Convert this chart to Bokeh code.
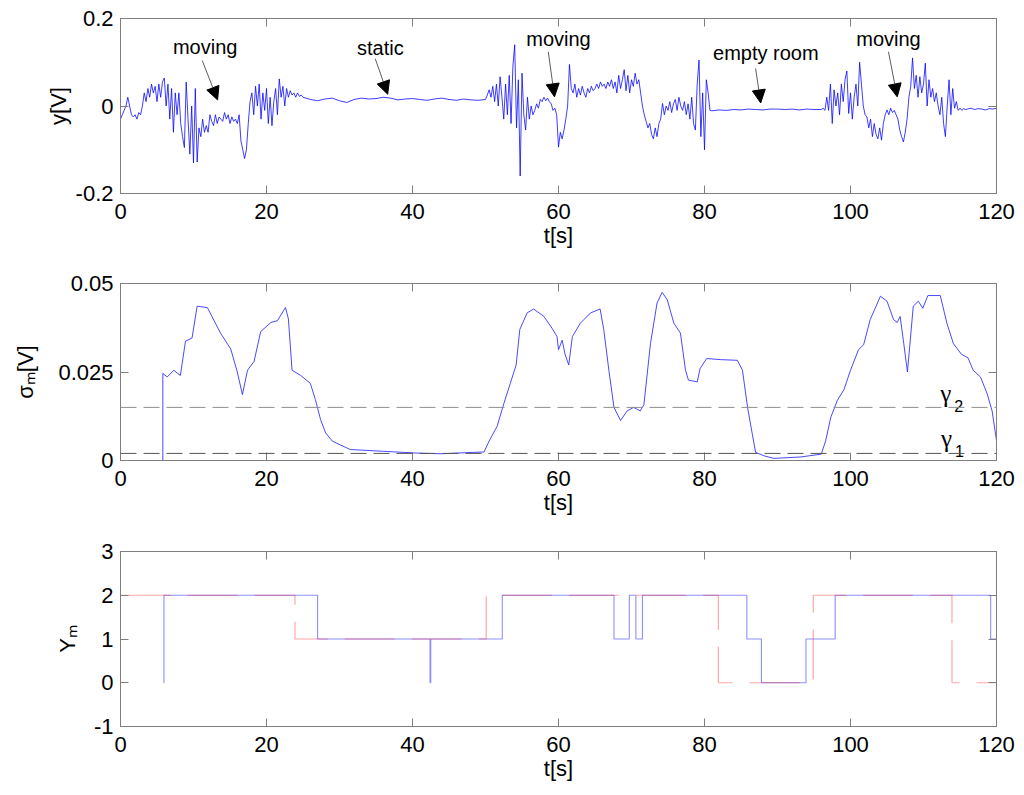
import numpy as np
from bokeh.plotting import figure
from bokeh.models import LinearAxis, FixedTicker, Arrow, NormalHead, ColumnDataSource, Span, Range1d
from bokeh.layouts import column
from bokeh.embed import file_html
from bokeh.resources import INLINE
from bokeh.core.properties import value

# ---------------- data ----------------
x_ticks = [0, 20, 40, 60, 80, 100, 120]
x_tick_labels = ["0", "20", "40", "60", "80", "100", "120"]

y1_ticks = [-0.2, 0, 0.2]
y1_tick_labels = ["-0.2", "0", "0.2"]
y2_ticks = [0, 0.025, 0.05]
y2_tick_labels = ["0", "0.025", "0.05"]
y3_ticks = [-1, 0, 1, 2, 3]
y3_tick_labels = ["-1", "0", "1", "2", "3"]

# raw signal y[V], read segment by segment (start time, sample step, values)
segA_start, segA_step = 0.0, 0.25
segA = [-0.03, -0.02, -0.01, 0.0,
        0.02, 0.0, -0.02, -0.025,
        -0.02, -0.03, -0.015, -0.02,
        0.0, 0.03, 0.01, 0.04,
        0.02, 0.05, 0.03, 0.045,
        0.01, 0.05, 0.02, 0.055,
        0.064, 0.0, 0.05, -0.03,
        0.04, -0.06, 0.03, -0.02,
        0.03, -0.04, -0.07, -0.095,
        0.055, -0.03, -0.11, 0.0,
        -0.13, 0.04, -0.128, -0.05,
        -0.07, -0.03, -0.06, -0.045,
        -0.06, -0.02, -0.035, -0.045,
        -0.02, -0.04, -0.025, -0.03,
        -0.035, -0.015, -0.03, -0.02,
        -0.04, -0.025, -0.035, -0.03,
        -0.04, -0.02, -0.08, -0.1,
        -0.12, -0.1, -0.04, 0.01,
        0.03, -0.02, 0.045, 0.0,
        0.05, -0.03, 0.03, -0.01,
        0.04, -0.04, 0.02, -0.045,
        0.01, 0.04, -0.02, 0.062,
        0.02, 0.045, 0.0, 0.04,
        0.02, 0.035, 0.025, 0.03,
        0.02, 0.03, 0.022, 0.025]
segB_start, segB_step = 25.0, 1.0
segB = [0.02, 0.015, 0.012, 0.016, 0.018, 0.012, 0.008, 0.015, 0.018, 0.016,
        0.017, 0.02, 0.018, 0.014, 0.016, 0.017, 0.015, 0.013, 0.016, 0.018,
        0.015, 0.013, 0.016, 0.014, 0.013]
segC_start, segC_step = 50.0, 0.25
segC = [0.015, 0.025, 0.037, 0.02,
        0.045, 0.01, 0.05, 0.0,
        0.067, 0.02, -0.03, 0.05,
        -0.02, 0.07, -0.04, 0.09,
        0.14, -0.05, 0.06, -0.16,
        0.075, -0.02, -0.055, 0.02,
        -0.03, 0.0, -0.02, -0.01,
        0.005, -0.005, 0.015, 0.01,
        0.02, 0.012, 0.018, 0.01,
        0.005, -0.01, -0.005, -0.02,
        -0.094, -0.06, -0.075, -0.055,
        -0.03, 0.0, 0.095, 0.04,
        0.03, 0.05, 0.02, 0.04,
        0.025, 0.045, 0.03, 0.02,
        0.04, 0.03, 0.045, 0.035,
        0.04, 0.05, 0.04, 0.055,
        0.045, 0.05, 0.04, 0.055,
        0.045, 0.06, 0.04, 0.055,
        0.03, 0.07, 0.04, 0.06,
        0.083, 0.035, 0.07, 0.03,
        0.06, 0.045, 0.075, 0.05,
        0.06, 0.03, 0.0, -0.02,
        -0.035, -0.05, -0.04, -0.065,
        -0.075, -0.05, -0.07, -0.04,
        -0.03, 0.006, -0.02, 0.0,
        -0.01, 0.01, -0.015, 0.005,
        0.015, -0.01, 0.02, 0.0,
        -0.01, 0.01, -0.02, 0.005,
        -0.03, 0.02, -0.04, -0.055,
        0.05, 0.105, -0.07, 0.03,
        -0.1, 0.06, 0.03, -0.01]
segD_start, segD_step = 81.0, 1.0
segD = [-0.011, -0.009, -0.01, -0.008, -0.009, -0.007, -0.008, -0.009, -0.007,
        -0.007, -0.008, -0.007, -0.009, -0.007, -0.008]
segE_start, segE_step = 96.0, 0.25
segE = [-0.008, -0.005, -0.01, 0.02,
        -0.01, 0.05, -0.04, 0.037,
        0.0, 0.03, -0.02, 0.05,
        0.01, 0.06, 0.08, -0.017,
        0.03, -0.03, 0.02, 0.05,
        0.0, 0.10, 0.05, 0.0,
        -0.02, -0.025, -0.05, -0.03,
        -0.07, -0.04, -0.065, -0.075,
        -0.05, -0.078, -0.04, -0.02,
        -0.009, -0.02, -0.005, -0.015,
        -0.01, -0.02, -0.03, -0.055,
        -0.07, -0.082, -0.06, -0.03,
        0.02, 0.045, 0.11, 0.04,
        0.07, 0.02, 0.067, 0.03,
        0.05, 0.098, 0.0, 0.06,
        0.02, 0.04, 0.01, 0.03,
        0.0, -0.02, 0.02, -0.04,
        -0.07, 0.0, 0.06, -0.02,
        0.04, -0.005, 0.01, -0.01,
        -0.005, -0.01, -0.006, -0.008]
segF_start, segF_step = 116.0, 0.5
segF = [-0.007, -0.005, -0.008, -0.006, -0.007, -0.009, -0.006, -0.007, -0.005]

# sigma_m [V]
sig_t = [0, 5.8, 5.8, 6.4, 7.3, 8.2, 8.9, 9.8, 10.5, 11.9, 13.7, 15.1, 16.0, 16.7, 17.4, 18.3,
         19.2, 20.6, 21.5, 22.6, 23.0, 23.5, 24.7, 26.0, 26.7, 27.4, 28.1, 29.0, 30.1, 31.5,
         36.0, 40.6, 43.9, 48.4, 49.8, 50.5, 51.6, 52.5, 53.4, 54.2, 54.7, 55.7, 56.6, 58.0,
         59.1, 59.8, 60.0, 60.5, 60.9, 61.4, 61.9, 63.0, 64.4, 65.7, 66.2, 66.9, 67.6, 68.5,
         69.4, 70.3, 71.2, 71.7, 72.6, 73.5, 74.2, 74.9, 75.8, 76.7, 77.4, 77.8, 79.0, 79.4,
         80.3, 82.2, 84.5, 85.2, 85.9, 86.3, 87.0, 88.2, 89.5, 93.2, 96.0, 96.6, 97.3, 98.2,
         99.1, 100.0, 101.1, 101.8, 102.7, 104.1, 105.0, 105.9, 106.4, 106.8, 107.3, 107.8,
         108.6, 109.3, 109.9, 110.6, 112.3, 113.2, 114.1, 115.2, 116.1, 116.8, 117.8, 118.7,
         119.4, 120.0]
sig_v = [0, 0, 0.0246, 0.0236, 0.0255, 0.024, 0.0337, 0.0346, 0.0436, 0.0432, 0.036, 0.0315,
         0.025, 0.0186, 0.0255, 0.028, 0.0364, 0.039, 0.0395, 0.0432, 0.040, 0.0255, 0.024,
         0.0218, 0.0172, 0.0116, 0.0078, 0.0055, 0.0044, 0.0031, 0.0026, 0.0021, 0.0019,
         0.0023, 0.0024, 0.0055, 0.0097, 0.016, 0.0218, 0.027, 0.037, 0.0417, 0.0428, 0.0407,
         0.0374, 0.035, 0.0313, 0.034, 0.030, 0.027, 0.035, 0.0388, 0.0417, 0.0428, 0.037,
         0.0255, 0.015, 0.0113, 0.014, 0.015, 0.014, 0.0158, 0.033, 0.0445, 0.0475, 0.0454,
         0.0388, 0.036, 0.0255, 0.0227, 0.0222, 0.026, 0.0288, 0.0285, 0.0283, 0.0255, 0.015,
         0.0103, 0.0023, 0.0013, 0.0006, 0.001, 0.0018, 0.0056, 0.0122, 0.017, 0.020, 0.0255,
         0.0313, 0.0327, 0.0398, 0.0464, 0.045, 0.0398, 0.039, 0.0407, 0.033, 0.025, 0.0436,
         0.045, 0.043, 0.0466, 0.0466, 0.0388, 0.033, 0.030, 0.029, 0.0255, 0.0236, 0.019,
         0.014, 0.0056]
gamma_levels = [0.015, 0.002]          # gamma_2, gamma_1
gamma_subs = ["2", "1"]
gamma_lab_x = [112.3, 112.4]
gamma_lab_y = [0.0188, 0.0061]

# Y_m decisions
blue_t = [5.9, 5.95, 27.0, 42.4, 42.5, 52.3, 67.6, 69.7, 70.6, 71.5, 85.8, 87.8, 93.9, 97.9, 119.2, 120.0]
blue_v = [0, 2, 1, 0, 1, 2, 1, 2, 1, 2, 1, 0, 1, 2, 1, 1]
red_t = [0, 23.9, 50.1, 81.9, 94.9, 113.9, 120.0]
red_v = [2, 1, 2, 0, 2, 0, 0]

# annotations (top panel)
ann_text = ["moving", "static", "moving", "empty room", "moving"]
ann_x = [11.6, 35.6, 60.0, 88.4, 105.2]
ann_y = [0.136, 0.132, 0.153, 0.121, 0.153]
arr_x0 = [11.2, 34.9, 58.6, 87.0, 105.2]
arr_y0 = [0.104, 0.108, 0.124, 0.086, 0.124]
arr_x1 = [13.3, 36.6, 59.45, 87.7, 106.4]
arr_y1 = [0.014, 0.027, 0.021, 0.007, 0.021]

# ---------------- build ----------------
def seg_t(start, step, vals):
    return list(start + step * np.arange(len(vals)))

sig_time = (seg_t(segA_start, segA_step, segA) + seg_t(segB_start, segB_step, segB) +
            seg_t(segC_start, segC_step, segC) + seg_t(segD_start, segD_step, segD) +
            seg_t(segE_start, segE_step, segE) + seg_t(segF_start, segF_step, segF))
sig_y = segA + segB + segC + segD + segE + segF

FONT = "Liberation Sans"
GRAY = "#7f7f7f"
FW, FH = 876, 175


def make_fig(yr, yticks, ylabels, ylabel, lab_standoff, fh, bottom, top=11):
    p = figure(frame_width=FW, frame_height=fh, x_range=Range1d(0, 120), y_range=Range1d(*yr),
               output_backend="svg", toolbar_location=None,
               min_border_left=120, min_border_right=20, min_border_top=top, min_border_bottom=bottom)
    p.grid.visible = False
    p.background_fill_color = "white"
    p.border_fill_color = "white"
    p.outline_line_color = GRAY
    p.outline_line_width = 1
    p.xaxis.ticker = FixedTicker(ticks=x_ticks)
    p.xaxis.major_label_overrides = {float(t): l for t, l in zip(x_ticks, x_tick_labels)}
    p.yaxis.ticker = FixedTicker(ticks=yticks)
    p.yaxis.major_label_overrides = {float(t): l for t, l in zip(yticks, ylabels)}
    for ax in p.xaxis + p.yaxis:
        ax.axis_line_color = GRAY
        ax.major_tick_line_color = GRAY
        ax.major_tick_in = 8
        ax.major_tick_out = 0
        ax.minor_tick_line_color = None
        ax.major_label_text_font = FONT
        ax.major_label_text_font_size = "22px"
        ax.major_label_text_color = "black"
        ax.axis_label_text_font = FONT
        ax.axis_label_text_font_size = "22px"
        ax.axis_label_text_font_style = "normal"
        ax.axis_label_text_color = "black"
    p.xaxis.axis_label = "t[s]"
    p.xaxis.major_label_standoff = 10
    p.xaxis.axis_label_standoff = 1
    p.yaxis.axis_label = ylabel
    p.yaxis.major_label_standoff = 7
    p.yaxis.axis_label_standoff = lab_standoff
    for loc, ticks in (("above", x_ticks), ("right", yticks)):
        ax = LinearAxis(ticker=FixedTicker(ticks=ticks), major_label_text_font_size="0px",
                        major_label_overrides={float(t): "" for t in ticks},
                        major_tick_in=8, major_tick_out=0, minor_tick_line_color=None,
                        axis_line_color=GRAY, major_tick_line_color=GRAY, major_label_standoff=0)
        p.add_layout(ax, loc)
    return p


# panel 1: raw signal
p1 = make_fig((-0.2, 0.2), y1_ticks, y1_tick_labels, "y[V]", 2, FH, 79, top=18)
p1.line(sig_time, sig_y, line_color="#0000ff", line_width=0.9, line_alpha=0.85)
p1.text(x=ann_x, y=ann_y, text=ann_text, text_font=value(FONT), text_font_size="20px",
        text_align="center", text_baseline="alphabetic", text_color="black")
arr_src = ColumnDataSource(dict(x0=arr_x0, y0=arr_y0, x1=arr_x1, y1=arr_y1))
p1.add_layout(Arrow(source=arr_src, x_start="x0", y_start="y0", x_end="x1", y_end="y1",
                    line_color="#333333", line_width=0.8,
                    end=NormalHead(size=13, fill_color="black", line_color="black", line_width=1)))

# panel 2: sigma_m
p2 = make_fig((0, 0.05), y2_ticks, y2_tick_labels, "σₘ[V]", 17, 177, 80)
p2.add_layout(Span(location=gamma_levels[0], dimension="width", line_color="#8f8f8f",
                   line_dash="16 7", line_width=1))
p2.add_layout(Span(location=gamma_levels[1], dimension="width", line_color="#555555",
                   line_dash="16 7", line_width=1))
p2.line(sig_t, sig_v, line_color="#2a2aff", line_width=1, line_alpha=0.85)
p2.text(x=gamma_lab_x, y=gamma_lab_y, text=["γ", "γ"], text_font=value("Liberation Serif"),
        text_font_size="25px", text_align="left", text_baseline="alphabetic", text_color="black")
p2.text(x=gamma_lab_x, y=gamma_lab_y, text=gamma_subs, text_font=value(FONT),
        text_font_size="16px", text_align="left", text_baseline="alphabetic", text_color="black",
        x_offset=14, y_offset=12)

# panel 3: Y_m
p3 = make_fig((-1, 3), y3_ticks, y3_tick_labels, "Yₘ", 11, FH, 58)
p3.step(blue_t, blue_v, mode="after", line_color="#1f1fff", line_width=1.1, line_alpha=0.5)
p3.step(red_t, red_v, mode="after", line_color="#ff0000", line_width=1.2, line_alpha=0.35,
        line_dash="50 17")

layout = column(p1, p2, p3)
open("out.html", "w").write(file_html(layout, INLINE))
